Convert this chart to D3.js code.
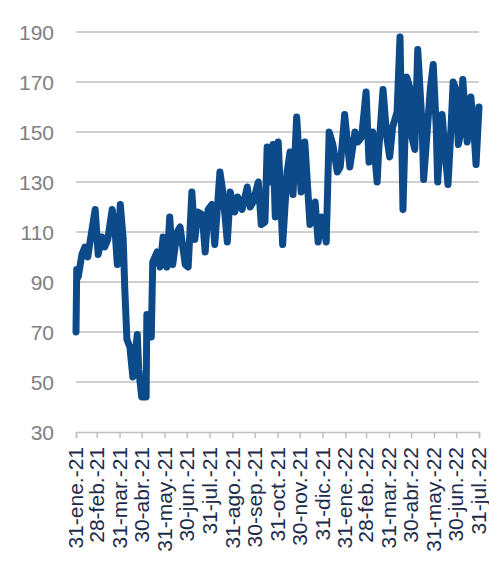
<!DOCTYPE html>
<html>
<head>
<meta charset="utf-8">
<script src="https://cdn.jsdelivr.net/npm/d3@7"></script>
<style>
  body { margin: 0; background: #fff; }
  svg text { font-family: "Liberation Sans", Arial, sans-serif; }
</style>
</head>
<body>
<div id="chart"></div>
<script>
// daily series
const dates = [
  "2021-01-31","2021-02-01","2021-02-03","2021-02-08","2021-02-12","2021-02-16","2021-02-19","2021-02-26",
  "2021-03-02","2021-03-07","2021-03-11","2021-03-15","2021-03-21","2021-03-25","2021-03-28",
  "2021-04-01","2021-04-05","2021-04-07","2021-04-10","2021-04-14","2021-04-18","2021-04-24","2021-04-26","2021-04-30",
  "2021-05-06","2021-05-07","2021-05-13","2021-05-15","2021-05-21","2021-05-25","2021-05-29",
  "2021-06-03","2021-06-07","2021-06-11","2021-06-17","2021-06-21","2021-06-28",
  "2021-07-02","2021-07-07","2021-07-11","2021-07-15","2021-07-21","2021-07-25","2021-07-29",
  "2021-08-03","2021-08-07","2021-08-14","2021-08-18","2021-08-24","2021-08-28",
  "2021-09-03","2021-09-07","2021-09-13","2021-09-20","2021-09-24","2021-09-28",
  "2021-10-05","2021-10-09","2021-10-14","2021-10-17","2021-10-21","2021-10-25","2021-10-28",
  "2021-11-01","2021-11-07","2021-11-13","2021-11-17","2021-11-21","2021-11-26",
  "2021-12-02","2021-12-07","2021-12-14","2021-12-21","2021-12-25","2021-12-30",
  "2022-01-05","2022-01-09","2022-01-14","2022-01-20","2022-01-24","2022-01-30",
  "2022-02-06","2022-02-13","2022-02-17","2022-02-22","2022-02-28",
  "2022-03-04","2022-03-09","2022-03-15","2022-03-17","2022-03-23","2022-03-28",
  "2022-04-01","2022-04-05","2022-04-11","2022-04-15","2022-04-19","2022-04-24","2022-04-28",
  "2022-05-01","2022-05-05","2022-05-09","2022-05-15","2022-05-17","2022-05-23","2022-05-26","2022-05-30",
  "2022-06-03","2022-06-05","2022-06-11","2022-06-15","2022-06-19","2022-06-23","2022-06-26","2022-06-30",
  "2022-07-03","2022-07-07","2022-07-09","2022-07-15","2022-07-20","2022-07-24","2022-07-27","2022-07-31"
];
const values = [
  70,95,92,101,104,100,106,119,
  101,108,104,107,119,110,97,
  121,107,88,67,64,52,69,55,44,
  44,77,68,98,102,96,108,
  96,116,97,110,112,97,
  96,126,107,118,117,102,119,
  121,105,134,126,106,126,
  118,124,119,128,120,122,
  130,113,114,144,130,145,116,
  146,105,134,142,125,156,
  126,146,113,122,106,116,
  106,150,145,134,136,157,
  136,150,146,148,166,
  138,150,130,142,167,148,
  140,152,158,188,119,172,168,
  148,143,183,152,131,155,167,177,
  152,130,157,142,129,151,170,167,
  145,151,171,146,164,151,137,160
];
const tickDates = [
  "2021-01-31","2021-02-28","2021-03-31","2021-04-30","2021-05-31","2021-06-30","2021-07-31",
  "2021-08-31","2021-09-30","2021-10-31","2021-11-30","2021-12-31","2022-01-31","2022-02-28",
  "2022-03-31","2022-04-30","2022-05-31","2022-06-30","2022-07-31"
];
const tickLabels = [
  "31-ene.-21","28-feb.-21","31-mar.-21","30-abr.-21","31-may.-21","30-jun.-21","31-jul.-21",
  "31-ago.-21","30-sep.-21","31-oct.-21","30-nov.-21","31-dic.-21","31-ene.-22","28-feb.-22",
  "31-mar.-22","30-abr.-22","31-may.-22","30-jun.-22","31-jul.-22"
];
const yTicks = [30, 50, 70, 90, 110, 130, 150, 170, 190];

const W = 489, H = 564;
const margin = {top: 32, right: 10, bottom: 132, left: 76};
const parse = d3.timeParse("%Y-%m-%d");

const svg = d3.select("#chart").append("svg")
  .attr("width", W)
  .attr("height", H);

const x = d3.scaleTime()
  .domain([parse(dates[0]), parse(dates[dates.length - 1])])
  .range([margin.left, 479]);

const y = d3.scaleLinear()
  .domain([30, 190])
  .range([432, margin.top]);

// gridlines
svg.append("g")
  .selectAll("line")
  .data(yTicks.slice(1))
  .join("line")
  .attr("x1", x.range()[0])
  .attr("x2", x.range()[1])
  .attr("y1", d => y(d))
  .attr("y2", d => y(d))
  .attr("stroke", "#bfbfbf")
  .attr("stroke-width", 1.5);

// y labels
svg.append("g")
  .selectAll("text")
  .data(yTicks)
  .join("text")
  .attr("x", 54)
  .attr("y", d => y(d))
  .attr("dy", "0.36em")
  .attr("text-anchor", "end")
  .attr("fill", "#808080")
  .style("font-size", "21px")
  .text(d => d);

// x axis
const xAxis = d3.axisBottom(x)
  .tickValues(tickDates.map(parse))
  .tickSize(6)
  .tickFormat((d, i) => tickLabels[i]);

const gx = svg.append("g")
  .attr("transform", "translate(0," + y(30) + ")")
  .call(xAxis);

gx.select(".domain").attr("stroke", "#bfbfbf").attr("stroke-width", 1.5);
gx.selectAll(".tick line").attr("stroke", "#bfbfbf").attr("stroke-width", 1.5);
gx.selectAll(".tick text")
  .attr("fill", "#1c2b4a")
  .style("font-size", "21px")
  .attr("text-anchor", "end")
  .attr("transform", "rotate(-90)")
  .attr("x", -15)
  .attr("y", -1)
  .attr("dy", "0.36em");

// series
const series = dates.map((d, i) => ({date: parse(d), value: values[i]}));

const line = d3.line()
  .x(d => x(d.date))
  .y(d => y(d.value));

svg.append("path")
  .datum(series)
  .attr("d", line)
  .attr("fill", "none")
  .attr("stroke", "#0d4a8a")
  .attr("stroke-width", 7)
  .attr("stroke-linejoin", "round")
  .attr("stroke-linecap", "round");
</script>
</body>
</html>
